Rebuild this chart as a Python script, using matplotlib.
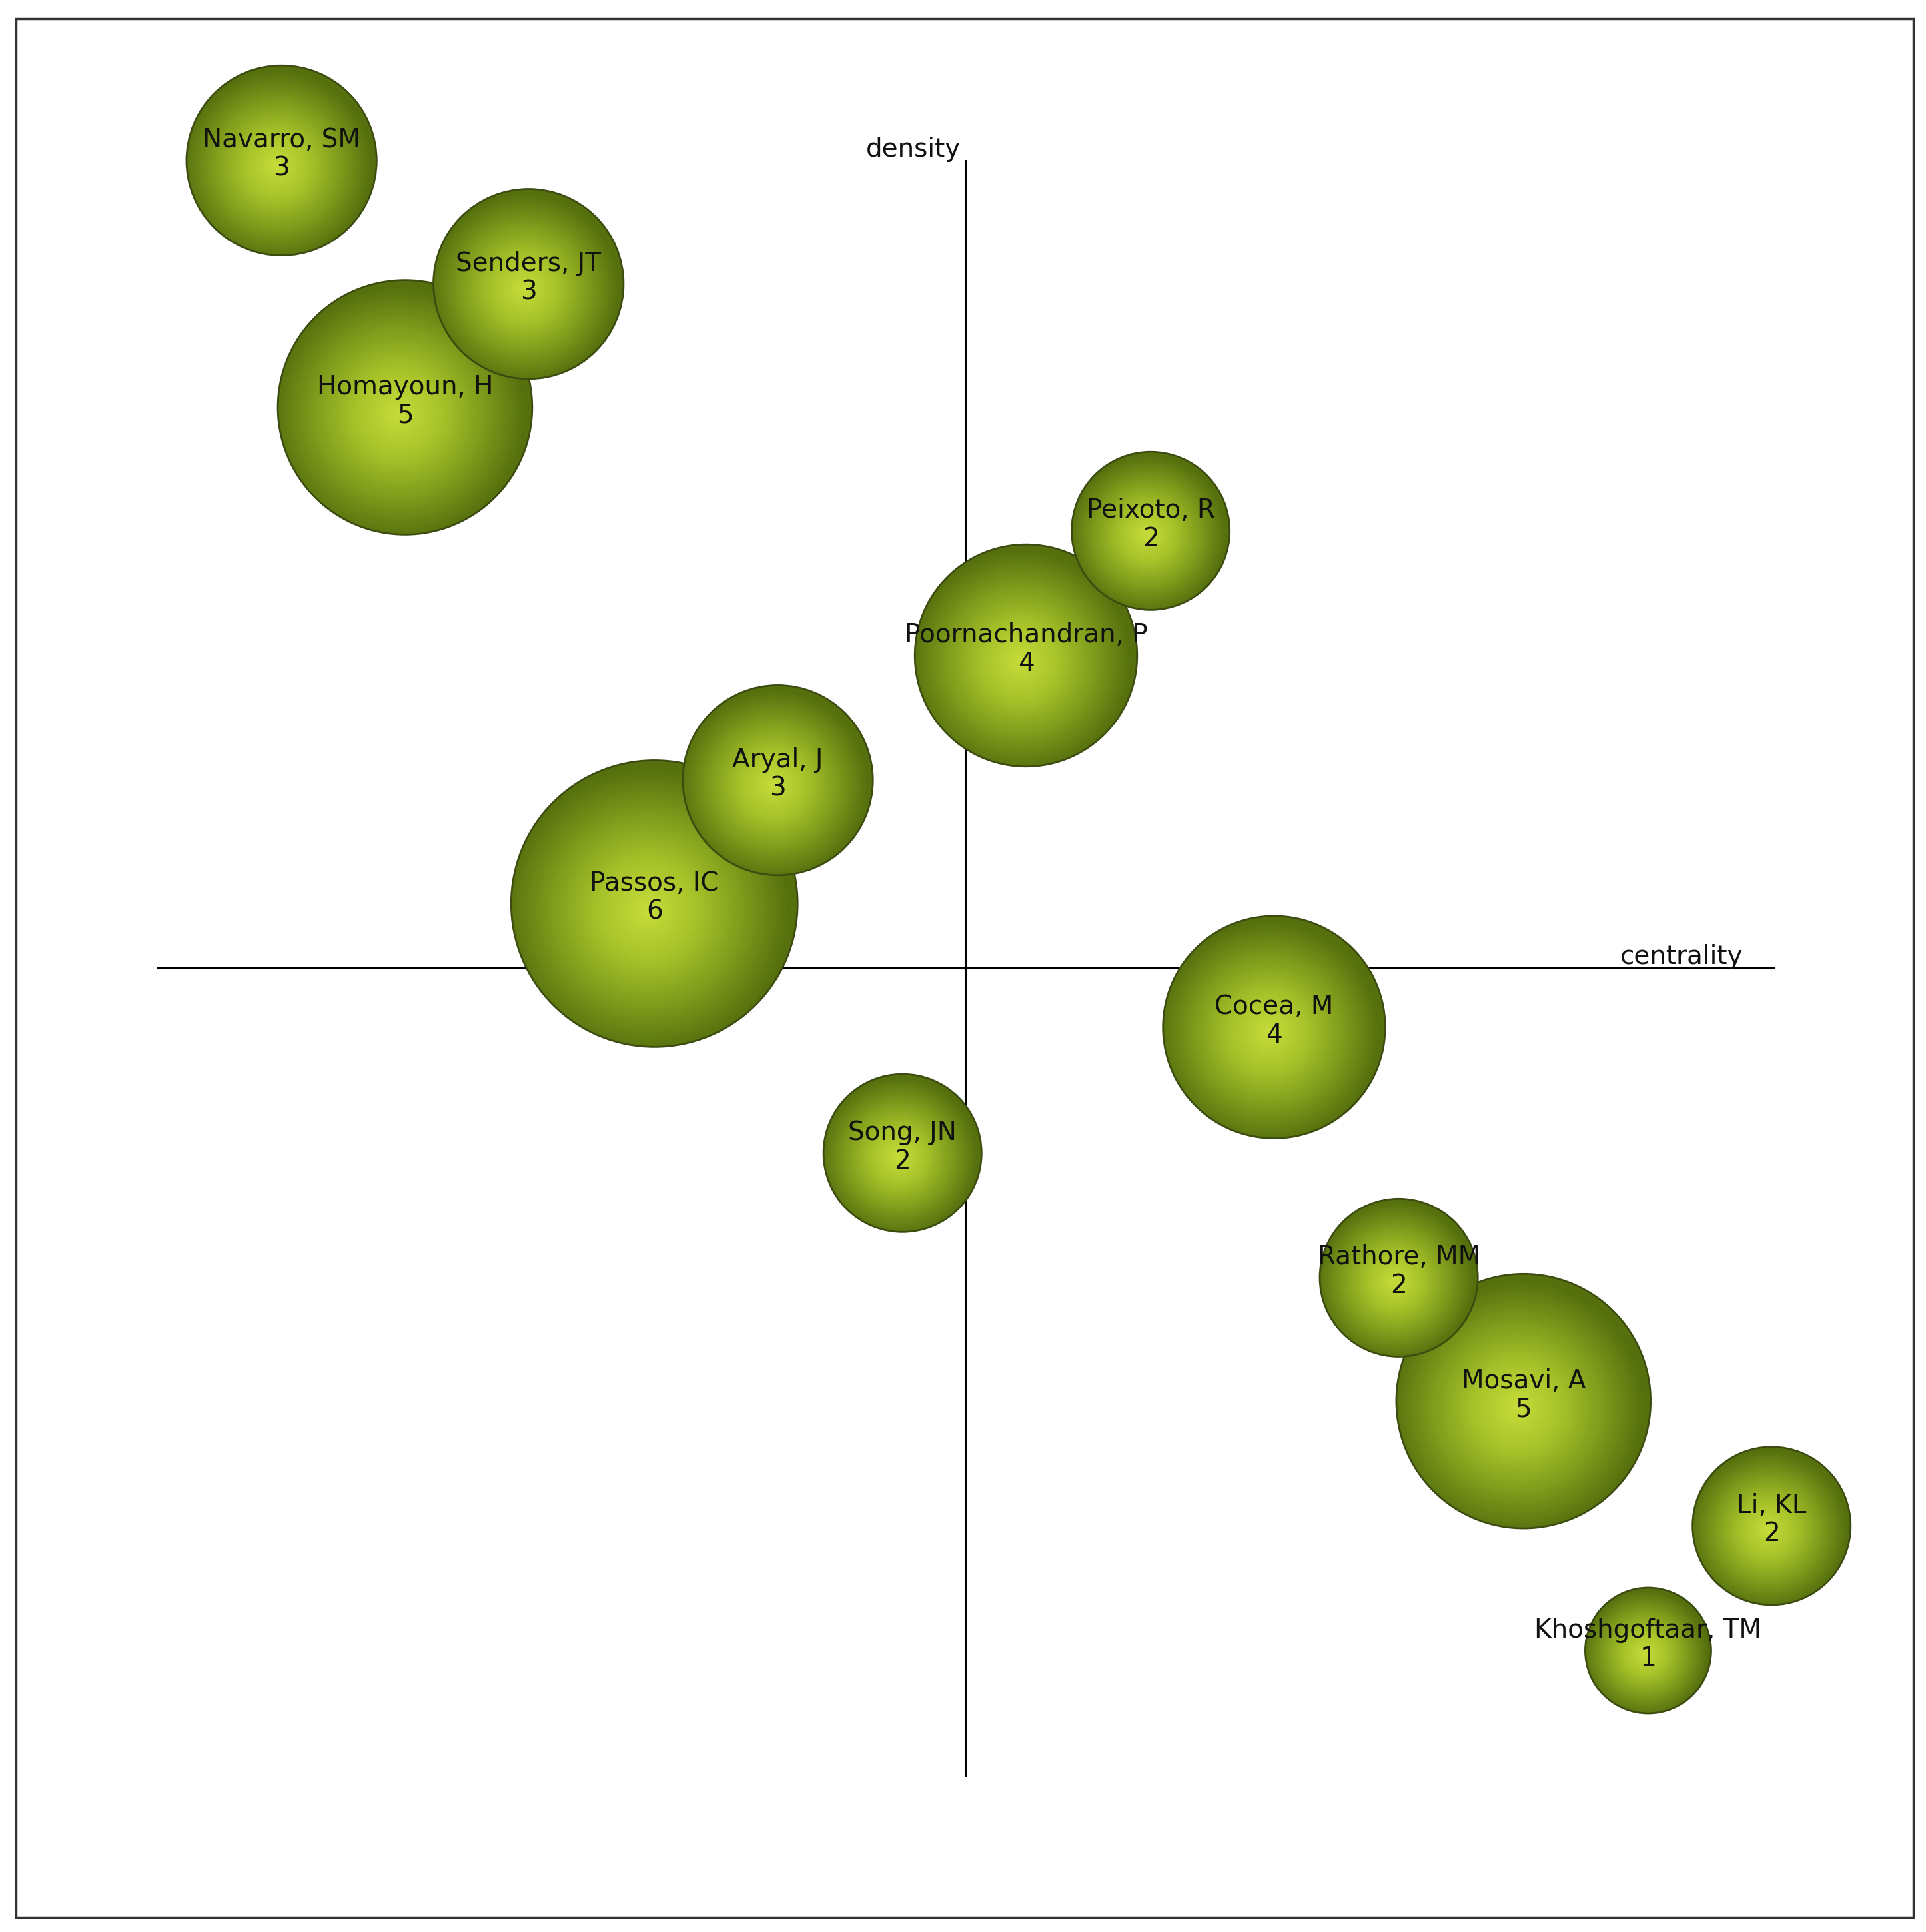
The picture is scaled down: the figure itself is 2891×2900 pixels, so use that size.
import matplotlib.pyplot as plt
import numpy as np
from matplotlib.patches import Circle, Rectangle
from matplotlib.colors import LinearSegmentedColormap

# authors, centrality (x), density (y), number of documents
authors = ["Navarro, SM", "Senders, JT", "Homayoun, H", "Peixoto, R", "Poornachandran, P",
           "Aryal, J", "Passos, IC", "Cocea, M", "Song, JN", "Rathore, MM", "Mosavi, A",
           "Li, KL", "Khoshgoftaar, TM"]
centrality = [-5.54, -3.54, -4.54, 1.50, 0.49, -1.52, -2.52, 2.50, -0.51, 3.51, 4.52, 6.53, 5.53]
density = [6.54, 5.54, 4.54, 3.54, 2.53, 1.52, 0.52, -0.48, -1.50, -2.51, -3.51, -4.52, -5.53]
docs = [3, 3, 5, 2, 4, 3, 6, 4, 2, 2, 5, 2, 1]

cmap = LinearSegmentedColormap.from_list("ball", ["#c6dc3a", "#a8c42a", "#7f9c1c", "#56700e"])

fig = plt.figure(figsize=(28.91, 29.0), dpi=100)
ax = fig.add_axes([0, 0, 1, 1])
ax.set_xlim(-7.82, 7.78)
ax.set_ylim(-7.81, 7.84)
ax.set_aspect("equal")
ax.axis("off")

# outer frame
ax.add_patch(Rectangle((-7.69, -7.69), 15.37, 15.38, fill=False, lw=2.5, ec="#333333"))

# quadrant axes
ax.plot([-6.54, 6.55], [0, 0], color="black", lw=2.2, zorder=1)
ax.plot([0, 0], [-6.54, 6.54], color="black", lw=2.2, zorder=1)
ax.text(-0.42, 6.63, "density", fontsize=28, ha="center", va="center", color="#111111")
ax.text(5.8, 0.09, "centrality", fontsize=28, ha="center", va="center", color="#111111")

# bubbles, larger first so smaller ones sit on top
order = sorted(range(len(authors)), key=lambda i: -docs[i])
g = np.linspace(-1, 1, 300)
gx, gy = np.meshgrid(g, g)
dist = np.sqrt((gx + 0.05) ** 2 + (gy + 0.05) ** 2)
for z, i in enumerate(order):
    r = (38 + 13 * docs[i]) / 100
    x, y = centrality[i], density[i]
    circ = Circle((x, y), r, fc="none", ec="#3c4c10", lw=2, zorder=2 + z * 2 + 1)
    im = ax.imshow(np.clip(dist, 0, 1), cmap=cmap, vmin=0, vmax=1, origin="lower",
                   extent=(x - r, x + r, y - r, y + r), zorder=2 + z * 2, interpolation="bilinear")
    ax.add_patch(circ)
    im.set_clip_path(circ)

for i in range(len(authors)):
    ax.text(centrality[i], density[i] + 0.05, authors[i] + "\n" + str(docs[i]),
            fontsize=28, ha="center", va="center", color="#111111", linespacing=1.15, zorder=100)

fig.savefig("out.png", dpi=100, facecolor="white")
